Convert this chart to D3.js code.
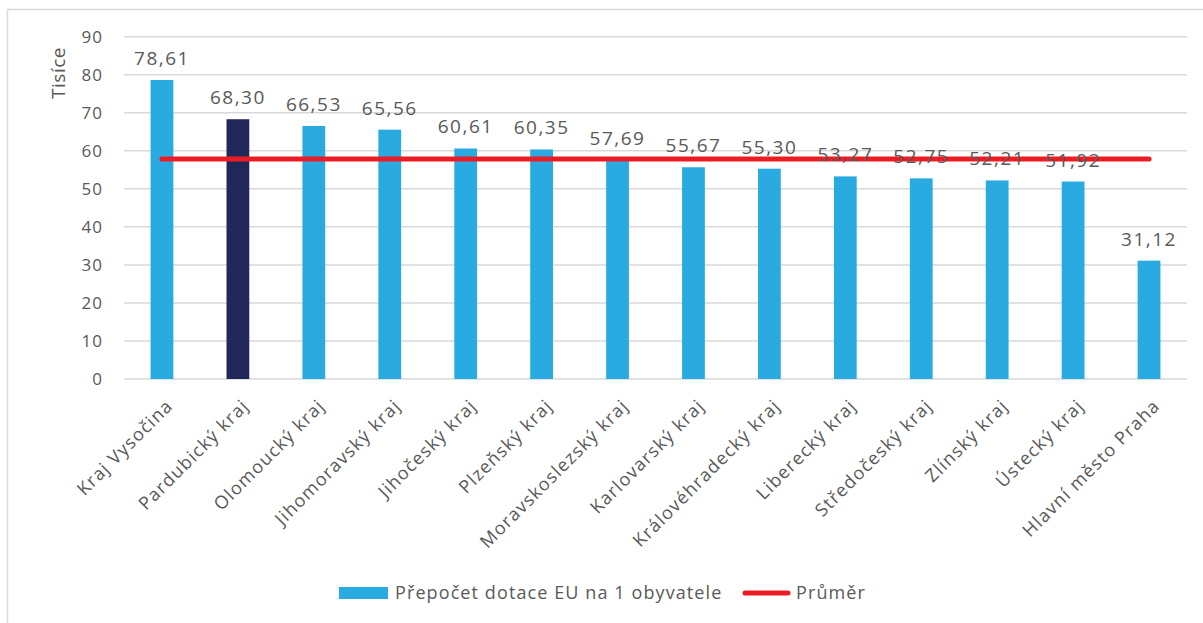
<!DOCTYPE html>
<html>
<head>
<meta charset="utf-8">
<script src="https://cdn.jsdelivr.net/npm/d3@7"></script>
<style>
  body { margin: 0; background: #fff; }
  text { font-family: "Open Sans", sans-serif; fill: #595959; }
</style>
</head>
<body>
<svg id="chart" width="1203" height="623"></svg>
<script>
// regions, sorted by value
var categories = ["Kraj Vysočina", "Pardubický kraj", "Olomoucký kraj", "Jihomoravský kraj",
  "Jihočeský kraj", "Plzeňský kraj", "Moravskoslezský kraj", "Karlovarský kraj",
  "Královéhradecký kraj", "Liberecký kraj", "Středočeský kraj", "Zlínský kraj",
  "Ústecký kraj", "Hlavní město Praha"];
var values = [78.61, 68.30, 66.53, 65.56, 60.61, 60.35, 57.69, 55.67, 55.30, 53.27, 52.75, 52.21, 51.92, 31.12];
var average = [57.85, 57.85, 57.85, 57.85, 57.85, 57.85, 57.85, 57.85, 57.85, 57.85, 57.85, 57.85, 57.85, 57.85];
var yTicks = [0, 10, 20, 30, 40, 50, 60, 70, 80, 90];
var highlighted = "Pardubický kraj";
var seriesNames = ["Přepočet dotace EU na 1 obyvatele", "Průměr"];

var blue = "#29abe2", navy = "#1f2858", red = "#ed1c24", grid = "#d9d9d9";

var svg = d3.select("#chart");

// chart frame (runs off right and bottom edges)
svg.append("rect")
    .attr("x", 7.5).attr("y", 9.5)
    .attr("width", 1400).attr("height", 800)
    .attr("fill", "none")
    .attr("stroke", grid)
    .attr("stroke-width", 1.5);

var x = d3.scaleBand()
    .domain(categories)
    .range([124, 1187])
    .paddingInner(0.7)
    .paddingOuter(0.35);

var y = d3.scaleLinear()
    .domain([0, 90])
    .range([379, 36.7]);

// gridlines
svg.append("g")
    .selectAll("line")
    .data(yTicks)
    .join("line")
    .attr("x1", 124).attr("x2", 1187)
    .attr("y1", function (d) { return y(d); })
    .attr("y2", function (d) { return y(d); })
    .attr("stroke", grid)
    .attr("stroke-width", 1.5);

// y tick labels
svg.append("g")
    .selectAll("text")
    .data(yTicks)
    .join("text")
    .attr("x", 103)
    .attr("y", function (d) { return y(d); })
    .attr("dy", "0.36em")
    .attr("text-anchor", "end")
    .style("font-size", "17px")
    .style("letter-spacing", "1px")
    .text(function (d) { return d; });

svg.append("text")
    .attr("transform", "translate(65,73) rotate(-90)")
    .attr("text-anchor", "middle")
    .style("font-size", "19px")
    .style("letter-spacing", "0.5px")
    .text("Tisíce");

// bars
svg.append("g")
    .selectAll("rect")
    .data(values)
    .join("rect")
    .attr("x", function (d, i) { return x(categories[i]); })
    .attr("width", x.bandwidth())
    .attr("y", function (d) { return y(d); })
    .attr("height", function (d) { return y(0) - y(d); })
    .attr("fill", function (d, i) { return categories[i] === highlighted ? navy : blue; });

// average line
var avgLine = d3.line()
    .x(function (d, i) { return x(categories[i]) + x.bandwidth() / 2; })
    .y(function (d) { return y(d); });

svg.append("path")
    .datum(average)
    .attr("d", avgLine)
    .attr("fill", "none")
    .attr("stroke", red)
    .attr("stroke-width", 5)
    .attr("stroke-linecap", "round");

// value labels
svg.append("g")
    .selectAll("text")
    .data(values)
    .join("text")
    .attr("x", function (d, i) { return x(categories[i]) + x.bandwidth() / 2; })
    .attr("y", function (d) { return y(d) - 15; })
    .attr("text-anchor", "middle")
    .style("font-size", "19px")
    .style("letter-spacing", "1.5px")
    .text(function (d) { return d.toFixed(2).replace(".", ","); });

// category labels, rotated
svg.append("g")
    .selectAll("text")
    .data(categories)
    .join("text")
    .attr("transform", function (d) {
        var cx = x(d) + x.bandwidth() / 2 + 12;
        return "translate(" + cx + ",407) rotate(-45)";
    })
    .attr("text-anchor", "end")
    .style("font-size", "18px")
    .style("letter-spacing", "1.2px")
    .text(function (d) { return d; });

// legend
var legend = svg.append("g");
legend.append("rect")
    .attr("x", 339).attr("y", 587)
    .attr("width", 49).attr("height", 12)
    .attr("fill", blue);
legend.append("text")
    .attr("x", 395).attr("y", 593)
    .attr("dy", "0.36em")
    .style("font-size", "18px")
    .style("letter-spacing", "1.1px")
    .text(seriesNames[0]);
legend.append("line")
    .attr("x1", 745).attr("x2", 788)
    .attr("y1", 593).attr("y2", 593)
    .attr("stroke", red)
    .attr("stroke-width", 5)
    .attr("stroke-linecap", "round");
legend.append("text")
    .attr("x", 796).attr("y", 593)
    .attr("dy", "0.36em")
    .style("font-size", "18px")
    .style("letter-spacing", "1.1px")
    .text(seriesNames[1]);
</script>
</body>
</html>
